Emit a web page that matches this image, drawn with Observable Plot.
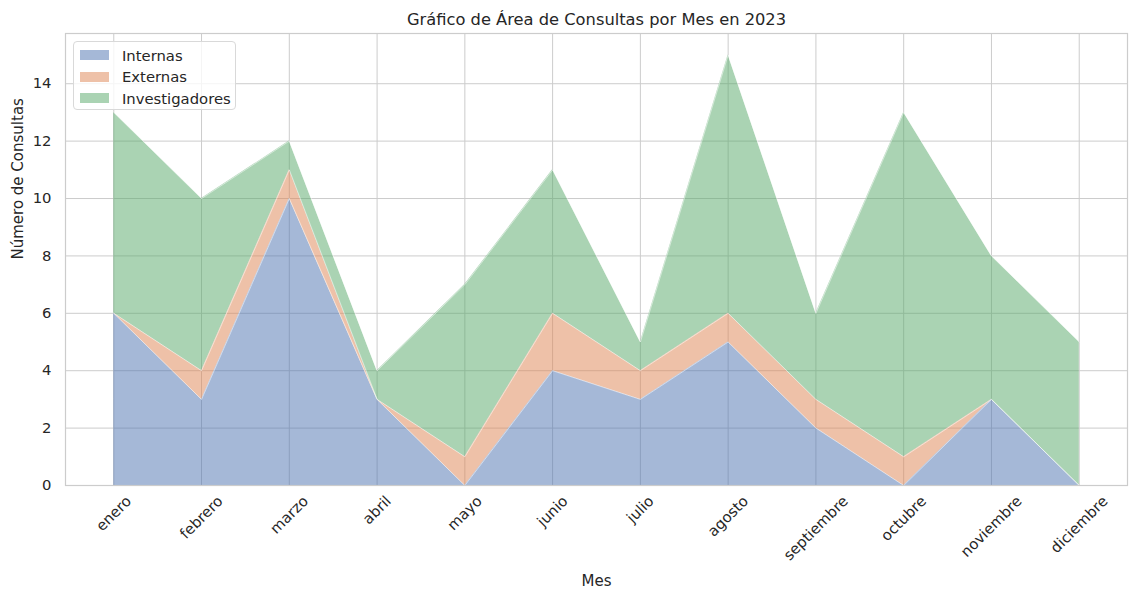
<!DOCTYPE html>
<html>
<head>
<meta charset="utf-8">
<script src="https://cdn.jsdelivr.net/npm/d3@7"></script>
<script src="https://cdn.jsdelivr.net/npm/@observablehq/plot@0.6"></script>
<style>
  html, body { margin: 0; padding: 0; background: #fff; }
  #wrap { position: relative; width: 1131px; height: 590px; font-family: "DejaVu Sans", sans-serif; }
  #legend { position: absolute; left: 73px; top: 41px; width: 163px; height: 69px; box-sizing: border-box;
            border: 1px solid #d9d9d9; border-radius: 4px; background: rgba(255,255,255,0.8);
            font-size: 14.8px; color: #262626; }
  .row { position: absolute; left: 6px; height: 20px; display: flex; align-items: center; }
  .sw { width: 29px; height: 10px; margin-right: 13px; }
</style>
</head>
<body>
<div id="wrap"><div id="chart"></div><div id="legend"></div></div>
<script>
const meses = ["enero","febrero","marzo","abril","mayo","junio","julio","agosto","septiembre","octubre","noviembre","diciembre"];
const series = ["Internas","Externas","Investigadores"];
const internas = [6,3,10,3,0,4,3,5,2,0,3,0];
const externas = [0,1,1,0,1,2,1,1,1,1,0,0];
const investigadores = [7,6,1,1,6,5,1,9,3,12,5,5];
const yTicks = [0,2,4,6,8,10,12,14];
const colors = ["#4C72B0","#DD8452","#55A868"];

const values = [internas, externas, investigadores];
const data = [];
series.forEach((s, k) => meses.forEach((m, i) => data.push({i, mes: m, serie: s, value: values[k][i]})));

const text = "#262626";
const tickFs = 14.8;
const canvas = document.createElement("canvas");
const ctx = canvas.getContext("2d");
ctx.font = `${tickFs}px "DejaVu Sans"`;
const lh = tickFs * 1.17;
const tickLabelMarks = meses.map((m, i) => {
  const w = ctx.measureText(m).width;
  const dy = 7 + (w + lh) / (2 * Math.SQRT2);
  return Plot.text([{i, m}], {x: "i", frameAnchor: "bottom", text: "m", rotate: -45, dy,
    textAnchor: "middle", lineAnchor: "middle", fontSize: tickFs, fill: text});
});

const chart = Plot.plot({
  width: 1131, height: 590,
  marginLeft: 65, marginRight: 4, marginTop: 33, marginBottom: 105,
  style: {fontFamily: "DejaVu Sans, sans-serif", color: text, background: "#fff"},
  x: {type: "linear", domain: [-0.55, 11.55], axis: null},
  y: {domain: [0, 15.75], axis: null},
  color: {domain: series, range: colors},
  marks: [
    Plot.gridX(d3.range(meses.length), {stroke: "#cccccc", strokeOpacity: 1, strokeWidth: 1}),
    Plot.gridY(yTicks, {stroke: "#cccccc", strokeOpacity: 1, strokeWidth: 1}),
    Plot.areaY(data, {x: "i", y: "value", fill: "serie", fillOpacity: 0.5, z: "serie"}),
    Plot.lineY(data, Plot.stackY2({x: "i", y: "value", z: "serie", stroke: "#ffffff", strokeWidth: 1, strokeOpacity: 0.5})),
    Plot.frame({stroke: "#cccccc", strokeWidth: 1.2}),
    Plot.axisY(yTicks, {tickSize: 0, tickPadding: 14, fontSize: tickFs, fill: text, label: null}),
    ...tickLabelMarks,
    Plot.text(["Gráfico de Área de Consultas por Mes en 2023"], {frameAnchor: "top", dy: -14, fontSize: 16.3, fill: text, lineAnchor: "middle"}),
    Plot.text(["Mes"], {frameAnchor: "bottom", dy: 96, fontSize: 15, fill: text, lineAnchor: "middle"}),
    Plot.text(["Número de Consultas"], {frameAnchor: "left", dx: -47, rotate: -90, fontSize: 15, fill: text, lineAnchor: "middle"})
  ]
});
document.getElementById("chart").appendChild(chart);

const legend = document.getElementById("legend");
series.forEach((s, k) => {
  const row = document.createElement("div");
  row.className = "row";
  row.style.top = (3 + k * 21.5) + "px";
  const sw = document.createElement("div");
  sw.className = "sw";
  sw.style.background = colors[k];
  sw.style.opacity = 0.5;
  const lab = document.createElement("span");
  lab.textContent = s;
  row.appendChild(sw); row.appendChild(lab);
  legend.appendChild(row);
});
</script>
</body>
</html>
